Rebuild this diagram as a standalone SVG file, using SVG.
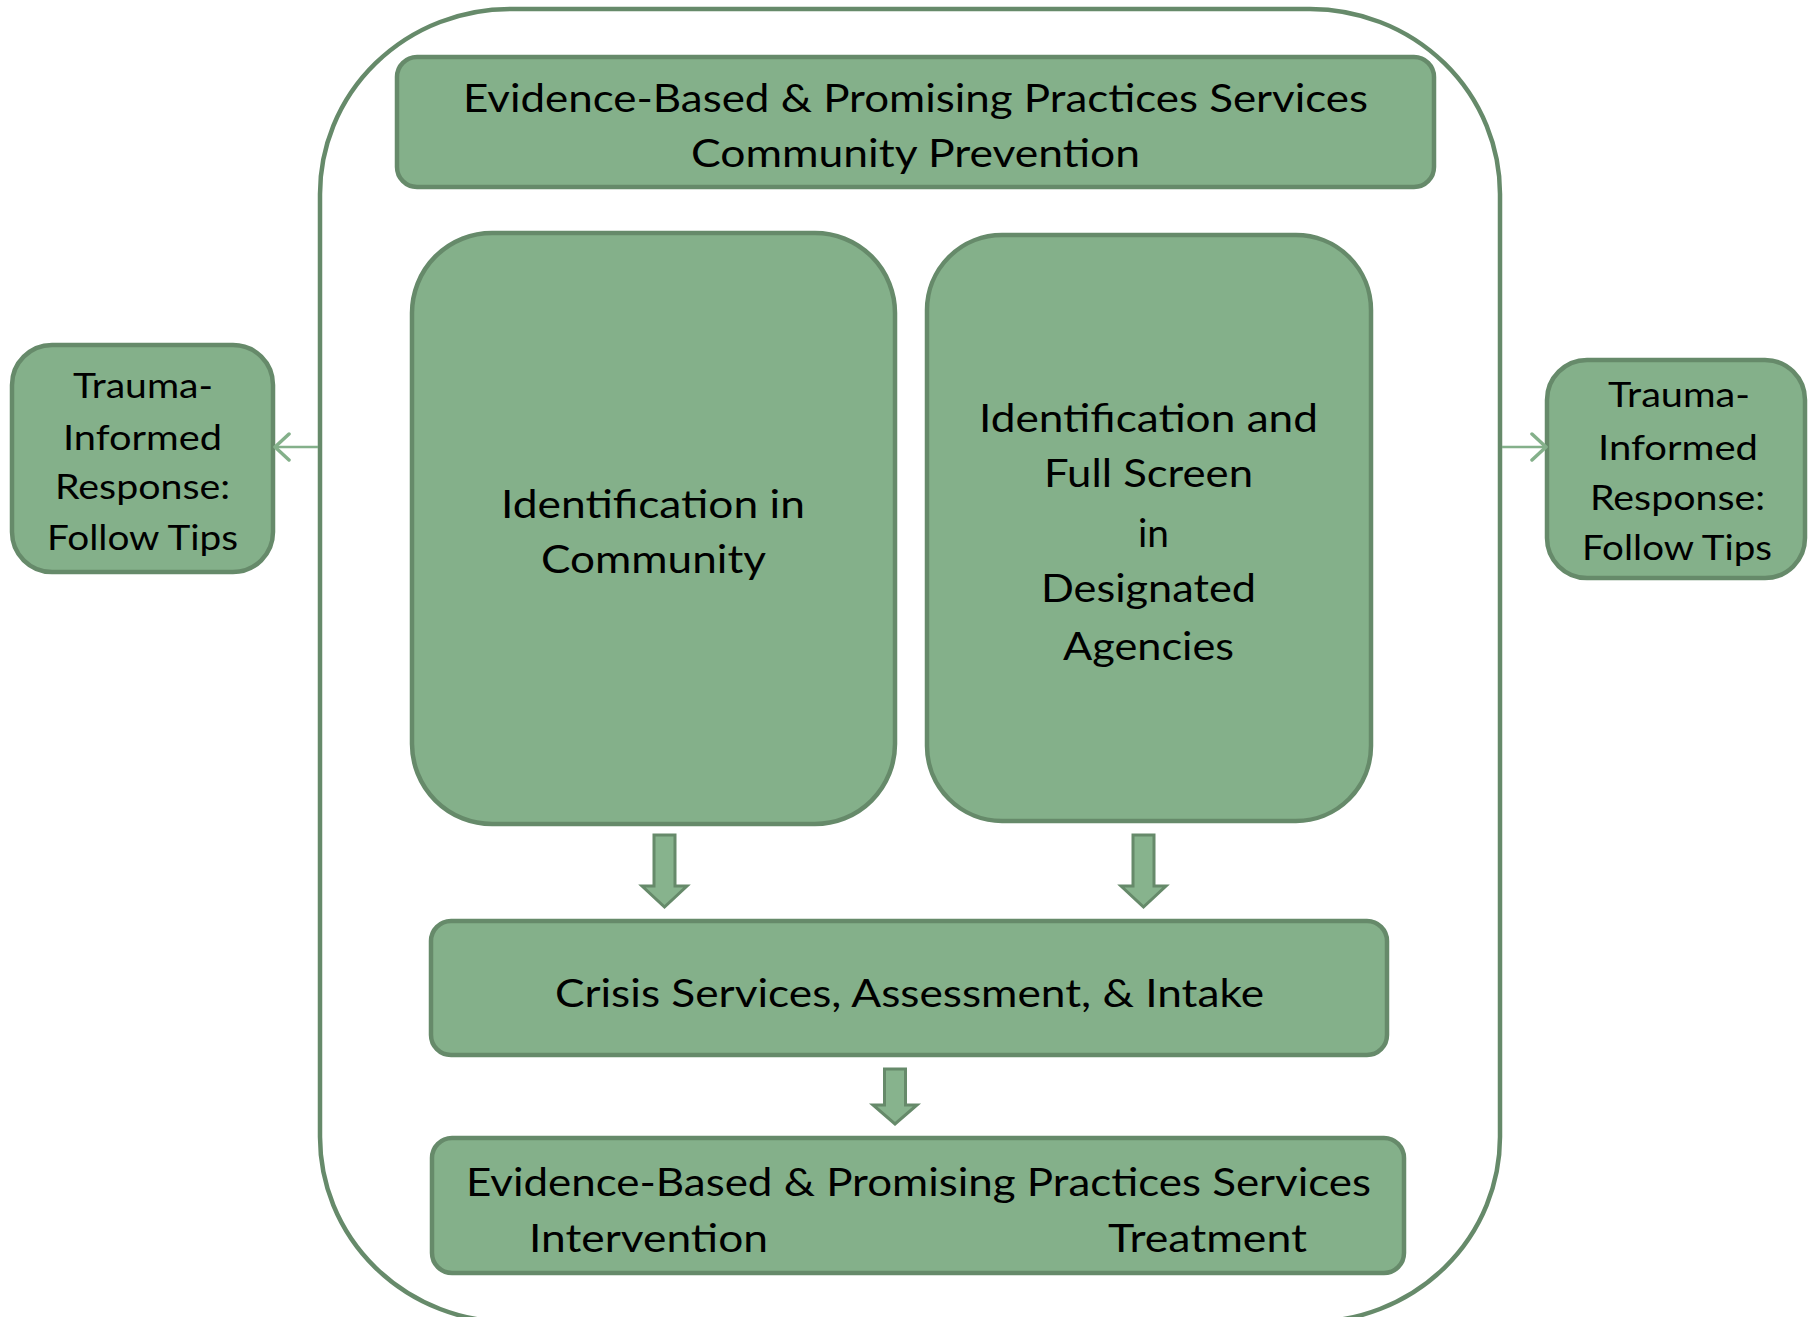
<svg xmlns="http://www.w3.org/2000/svg" xmlns:xlink="http://www.w3.org/1999/xlink" width="1816" height="1317" viewBox="0 0 1816 1317">
  <style>
    .box { fill: #84B08A; stroke: #668A6A; stroke-width: 4.5; }
    .frame { fill: none; stroke: #668A6A; stroke-width: 4.5; }
    .t { font-family: Lato, "Liberation Sans", sans-serif; fill: #000; text-anchor: middle; }
    .big { font-size: 39px; }
    .small { font-size: 35px; }
    .block { fill: #87B38D; stroke: #668A6A; stroke-width: 3; stroke-linejoin: miter; }
    .thin { fill: none; stroke: #84B08A; stroke-width: 2.5; }
  </style>
  <defs>
    <marker id="chev" viewBox="0 0 20 30" refX="17" refY="15" markerWidth="20" markerHeight="30" markerUnits="userSpaceOnUse" orient="auto">
      <polyline points="3,2 17,15 3,28" fill="none" stroke="#84B08A" stroke-width="3.5" stroke-linecap="round" stroke-linejoin="round"/>
    </marker>
  </defs>
  <rect width="1816" height="1317" fill="#ffffff"/>

  <g id="frame">
    <rect class="frame" x="320" y="9" width="1180" height="1313" rx="190" ry="185"/>
  </g>

  <g id="node-prevention">
    <rect class="box" x="397" y="57" width="1037" height="130" rx="20"/>
    <text class="t big" x="915.5" y="112" textLength="905" lengthAdjust="spacingAndGlyphs">Evidence-Based &amp; Promising Practices Services</text>
    <text class="t big" x="915.5" y="167" textLength="449" lengthAdjust="spacingAndGlyphs">Community Prevention</text>
  </g>

  <g id="node-id-community">
    <rect class="box" x="412" y="233" width="483" height="591" rx="80"/>
    <text class="t big" x="653" y="518" textLength="304" lengthAdjust="spacingAndGlyphs">Identification in</text>
    <text class="t big" x="653.5" y="573" textLength="225" lengthAdjust="spacingAndGlyphs">Community</text>
  </g>

  <g id="node-id-agencies">
    <rect class="box" x="927" y="235" width="444" height="586" rx="75"/>
    <text class="t big" x="1148.5" y="432" textLength="339" lengthAdjust="spacingAndGlyphs">Identification and</text>
    <text class="t big" x="1148.5" y="487" textLength="209" lengthAdjust="spacingAndGlyphs">Full Screen</text>
    <text class="t big" x="1153.5" y="547" textLength="31" lengthAdjust="spacingAndGlyphs">in</text>
    <text class="t big" x="1148.5" y="602" textLength="215" lengthAdjust="spacingAndGlyphs">Designated</text>
    <text class="t big" x="1148.5" y="660" textLength="171" lengthAdjust="spacingAndGlyphs">Agencies</text>
  </g>

  <g id="node-crisis">
    <rect class="box" x="431" y="921" width="956" height="134" rx="20"/>
    <text class="t big" x="909.5" y="1007" textLength="709" lengthAdjust="spacingAndGlyphs">Crisis Services, Assessment, &amp; Intake</text>
  </g>

  <g id="node-intervention">
    <rect class="box" x="432" y="1138" width="972" height="135" rx="20"/>
    <text class="t big" x="918.5" y="1196" textLength="905" lengthAdjust="spacingAndGlyphs">Evidence-Based &amp; Promising Practices Services</text>
    <text class="t big" x="648.5" y="1252" textLength="239" lengthAdjust="spacingAndGlyphs">Intervention</text>
    <text class="t big" x="1207.5" y="1252" textLength="199" lengthAdjust="spacingAndGlyphs">Treatment</text>
  </g>

  <g id="node-trauma-left">
    <rect class="box" x="12" y="345" width="261" height="227" rx="40"/>
    <text class="t small" x="143" y="398" textLength="140" lengthAdjust="spacingAndGlyphs">Trauma-</text>
    <text class="t small" x="142.5" y="450" textLength="159" lengthAdjust="spacingAndGlyphs">Informed</text>
    <text class="t small" x="142.5" y="499" textLength="175" lengthAdjust="spacingAndGlyphs">Response:</text>
    <text class="t small" x="142.5" y="550" textLength="191" lengthAdjust="spacingAndGlyphs">Follow Tips</text>
  </g>

  <g id="node-trauma-right">
    <rect class="box" x="1547" y="360" width="258" height="218" rx="40"/>
    <text class="t small" x="1679" y="407" textLength="142" lengthAdjust="spacingAndGlyphs">Trauma-</text>
    <text class="t small" x="1678" y="460" textLength="160" lengthAdjust="spacingAndGlyphs">Informed</text>
    <text class="t small" x="1677.5" y="510" textLength="175" lengthAdjust="spacingAndGlyphs">Response:</text>
    <text class="t small" x="1677" y="560" textLength="190" lengthAdjust="spacingAndGlyphs">Follow Tips</text>
  </g>

  <g id="connectors">
    <polygon class="block" points="654,835 675,835 675,886 687,886 664.5,907 642,886 654,886"/>
    <polygon class="block" points="1133,835 1154,835 1154,886 1166,886 1143.5,907 1121,886 1133,886"/>
    <polygon class="block" points="884.5,1069 905.5,1069 905.5,1105 917,1105 895,1124 873,1105 884.5,1105"/>
    <line class="thin" x1="318" y1="447" x2="275" y2="447" marker-end="url(#chev)"/>
    <line class="thin" x1="1502" y1="447" x2="1546" y2="447" marker-end="url(#chev)"/>
  </g>
</svg>
